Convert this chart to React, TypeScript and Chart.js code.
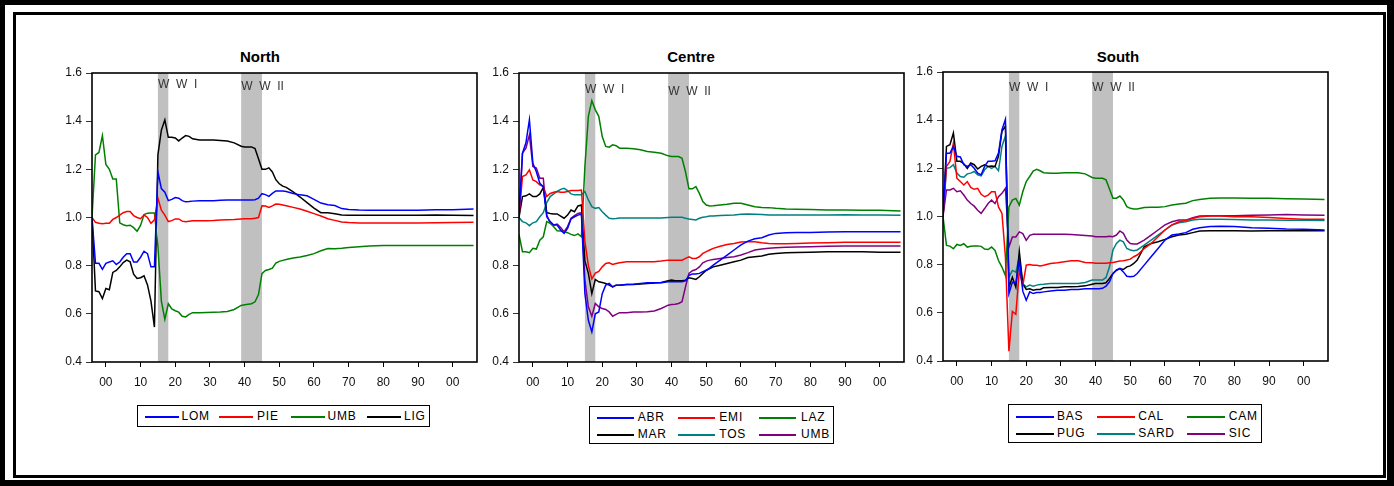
import React, { useEffect, useRef } from "react";
import { Chart, registerables } from "chart.js";

Chart.register(...registerables);

const FONT = '"Liberation Sans", Arial, Helvetica, sans-serif';

// ---------- data ----------
const YEARS = [
  1896, 1897, 1898, 1899, 1900, 1901, 1902, 1903, 1904, 1905,
  1906, 1907, 1908, 1909, 1910, 1911, 1912, 1913, 1914, 1915,
  1916, 1917, 1918, 1919, 1920, 1921, 1922, 1923, 1924, 1925,
  1927, 1929, 1931, 1933, 1935, 1937, 1939, 1940, 1941, 1942,
  1943, 1944, 1945, 1946, 1947, 1948, 1949, 1950, 1951, 1952,
  1954, 1956, 1958, 1960, 1962, 1964, 1966, 1968, 1970, 1973,
  1976, 1980, 1985, 1990, 1995, 2000, 2006,
];

const X_TICKS = [1900, 1910, 1920, 1930, 1940, 1950, 1960, 1970, 1980, 1990, 2000];
const Y_TICKS = [0.4, 0.6, 0.8, 1.0, 1.2, 1.4, 1.6];
const WAR_START = [1915, 1939];
const WAR_END = [1918, 1945];
const WAR_LABELS = ["W  W  I", "W  W  II"];

// North
const NORTH_NAMES = ["LOM", "PIE", "UMB", "LIG"];
const NORTH_COLORS = ["#0000ff", "#ff0000", "#008000", "#000000"];
const N_LOM = [
  1.0, 0.81, 0.81, 0.785, 0.81, 0.815, 0.82, 0.805, 0.815, 0.835,
  0.85, 0.85, 0.815, 0.815, 0.835, 0.86, 0.85, 0.795, 0.795, 1.19,
  1.12, 1.105, 1.07, 1.075, 1.083, 1.08, 1.07, 1.065, 1.066, 1.068,
  1.07, 1.07, 1.07, 1.072, 1.073, 1.073, 1.073, 1.073, 1.073, 1.073,
  1.074, 1.08, 1.099, 1.095, 1.088, 1.1, 1.11, 1.11, 1.11, 1.108,
  1.1, 1.094, 1.09, 1.075, 1.06, 1.053, 1.05, 1.037, 1.033, 1.031,
  1.03, 1.03, 1.03, 1.03, 1.032, 1.032, 1.035,
];
const N_PIE = [
  1.0, 0.98, 0.976, 0.974, 0.976, 0.976, 0.992, 1.0, 1.01, 1.02,
  1.025, 1.025, 1.008, 1.0, 0.995, 1.01, 1.0, 0.976, 0.99, 1.08,
  1.03, 1.01, 0.983, 0.987, 0.994, 0.994, 0.985, 0.982, 0.984, 0.986,
  0.987, 0.987, 0.988, 0.99, 0.991, 0.992, 0.994, 0.995, 0.995, 0.995,
  0.997, 1.0, 1.049, 1.048, 1.042, 1.048, 1.056, 1.055, 1.052, 1.049,
  1.042, 1.035, 1.026, 1.016, 1.006, 0.995, 0.988, 0.981, 0.979, 0.977,
  0.977, 0.977, 0.977, 0.977, 0.978, 0.979, 0.98,
];
const N_UMB = [
  1.0, 1.26, 1.27, 1.34, 1.22, 1.2, 1.16, 1.16, 0.978, 0.97,
  0.966, 0.968, 0.958, 0.943, 0.967, 1.012, 1.018, 1.019, 1.019, 0.88,
  0.653, 0.577, 0.642, 0.62, 0.613, 0.607, 0.59, 0.587, 0.598, 0.605,
  0.605, 0.606, 0.607, 0.608, 0.61, 0.618, 0.635, 0.638, 0.64, 0.642,
  0.65, 0.68, 0.767, 0.78, 0.784, 0.79, 0.811, 0.818, 0.822, 0.826,
  0.832, 0.836, 0.842, 0.85, 0.862, 0.871, 0.87, 0.872, 0.875, 0.879,
  0.882, 0.884, 0.884, 0.884, 0.884, 0.884, 0.884,
];
const N_LIG = [
  1.0, 0.695, 0.692, 0.663, 0.705, 0.7, 0.772, 0.78, 0.795, 0.813,
  0.823, 0.816, 0.765, 0.747, 0.75, 0.758, 0.72, 0.653, 0.545, 1.26,
  1.363, 1.405, 1.333, 1.333, 1.33, 1.318, 1.33, 1.34, 1.337, 1.327,
  1.322, 1.322, 1.322, 1.32, 1.318, 1.31, 1.296, 1.293, 1.293, 1.293,
  1.286, 1.244, 1.2, 1.2, 1.206, 1.189, 1.157, 1.14, 1.13, 1.125,
  1.106, 1.085, 1.062, 1.039, 1.02, 1.02, 1.016, 1.01, 1.009, 1.009,
  1.009, 1.009, 1.009, 1.009, 1.01, 1.009, 1.008,
];

// Centre
const CENTRE_NAMES = ["ABR", "EMI", "LAZ", "MAR", "TOS", "UMB"];
const CENTRE_COLORS = ["#0000ff", "#ff0000", "#008000", "#000000", "#008080", "#800080"];
const C_ABR = [
  1.0, 1.267, 1.31, 1.406, 1.225, 1.19, 1.142, 1.128, 1.003, 0.983,
  0.969, 0.969, 0.948, 0.934, 0.955, 0.994, 1.003, 1.01, 1.014, 0.684,
  0.573, 0.525, 0.6, 0.608, 0.684, 0.719, 0.726, 0.712, 0.719, 0.719,
  0.722, 0.723, 0.726, 0.729, 0.729, 0.729, 0.733, 0.733, 0.733, 0.733,
  0.733, 0.737, 0.76, 0.765, 0.765, 0.768, 0.775, 0.781, 0.791, 0.802,
  0.823, 0.844, 0.865, 0.886, 0.902, 0.912, 0.916, 0.927, 0.934, 0.937,
  0.938, 0.938, 0.94, 0.941, 0.941, 0.941, 0.941,
];
const C_EMI = [
  1.0, 1.17, 1.177, 1.198, 1.156, 1.149, 1.135, 1.128, 1.087, 1.1,
  1.105, 1.108, 1.105, 1.105, 1.108, 1.112, 1.112, 1.112, 1.114, 0.9,
  0.8, 0.745, 0.769, 0.776, 0.795, 0.809, 0.812, 0.805, 0.809, 0.812,
  0.816, 0.816, 0.816, 0.816, 0.816, 0.819, 0.823, 0.823, 0.823, 0.823,
  0.823, 0.83, 0.837, 0.83, 0.83, 0.837, 0.851, 0.858, 0.865, 0.872,
  0.881, 0.888, 0.892, 0.898, 0.899, 0.899, 0.895, 0.892, 0.891, 0.891,
  0.892, 0.894, 0.895, 0.897, 0.897, 0.897, 0.897,
];
const C_LAZ = [
  0.93, 0.858, 0.858, 0.854, 0.872, 0.869, 0.906, 0.92, 0.983, 0.976,
  0.962, 0.945, 0.944, 0.941, 0.937, 0.93, 0.925, 0.932, 0.92, 1.212,
  1.42, 1.485, 1.447, 1.42, 1.336, 1.295, 1.292, 1.302, 1.298, 1.288,
  1.288, 1.285, 1.281, 1.274, 1.271, 1.267, 1.256, 1.253, 1.253, 1.253,
  1.246, 1.19, 1.119, 1.119, 1.128, 1.1, 1.066, 1.052, 1.048, 1.049,
  1.052, 1.055, 1.059, 1.059, 1.052, 1.045, 1.042, 1.041, 1.038, 1.035,
  1.034, 1.033, 1.031, 1.031, 1.03, 1.03, 1.027,
];
const C_MAR = [
  1.0, 1.087, 1.09, 1.098, 1.087, 1.087, 1.098, 1.124, 1.02, 1.017,
  1.015, 1.015, 1.006, 0.997, 1.01, 1.031, 1.024, 1.048, 1.052, 0.82,
  0.768, 0.684, 0.743, 0.733, 0.73, 0.726, 0.719, 0.712, 0.719, 0.719,
  0.722, 0.722, 0.724, 0.726, 0.728, 0.73, 0.737, 0.74, 0.737, 0.737,
  0.737, 0.74, 0.75, 0.747, 0.743, 0.754, 0.768, 0.781, 0.788, 0.795,
  0.802, 0.809, 0.816, 0.823, 0.834, 0.837, 0.84, 0.847, 0.851, 0.854,
  0.855, 0.856, 0.858, 0.858, 0.858, 0.856, 0.856,
];
const C_TOS = [
  1.0, 0.983, 0.978, 0.966, 0.978, 0.983, 1.003, 1.02, 1.062, 1.087,
  1.098, 1.108, 1.117, 1.121, 1.112, 1.098, 1.094, 1.094, 1.094, 1.108,
  1.073, 1.045, 1.038, 1.041, 1.024, 1.01, 0.997, 0.995, 0.996, 0.998,
  0.998, 0.998, 0.998, 0.998, 0.998, 0.998, 1.0, 1.001, 1.001, 1.001,
  1.001, 0.997, 0.994, 0.992, 0.99, 0.997, 1.001, 1.003, 1.006, 1.006,
  1.008, 1.009, 1.01, 1.013, 1.015, 1.014, 1.012, 1.01, 1.01, 1.01,
  1.01, 1.01, 1.01, 1.011, 1.01, 1.01, 1.009,
];
const C_UMB = [
  1.0, 1.267, 1.288, 1.343, 1.212, 1.205, 1.163, 1.163, 1.01, 0.976,
  0.969, 0.973, 0.958, 0.941, 0.962, 0.997, 1.008, 1.017, 1.02, 0.74,
  0.629, 0.59, 0.643, 0.629, 0.622, 0.618, 0.608, 0.59, 0.598, 0.605,
  0.605, 0.608, 0.608, 0.609, 0.612, 0.622, 0.636, 0.639, 0.64, 0.643,
  0.65, 0.712, 0.768, 0.779, 0.784, 0.795, 0.812, 0.819, 0.823, 0.826,
  0.83, 0.834, 0.837, 0.844, 0.854, 0.865, 0.869, 0.872, 0.874, 0.876,
  0.878, 0.879, 0.881, 0.882, 0.882, 0.882, 0.882,
];

// South
const SOUTH_NAMES = ["BAS", "CAL", "CAM", "PUG", "SARD", "SIC"];
const SOUTH_COLORS = ["#0000ff", "#ff0000", "#008000", "#000000", "#008080", "#800080"];
const S_BAS = [
  1.0, 1.263, 1.263, 1.291, 1.25, 1.247, 1.215, 1.208, 1.215, 1.2,
  1.18, 1.173, 1.208, 1.229, 1.229, 1.231, 1.263, 1.36, 1.403, 0.68,
  0.727, 0.723, 0.817, 0.69, 0.652, 0.687, 0.68, 0.684, 0.684, 0.687,
  0.691, 0.694, 0.694, 0.697, 0.697, 0.7, 0.7, 0.7, 0.7, 0.702,
  0.711, 0.729, 0.763, 0.777, 0.784, 0.77, 0.752, 0.75, 0.752, 0.763,
  0.798, 0.833, 0.867, 0.902, 0.923, 0.927, 0.933, 0.947, 0.953, 0.958,
  0.96, 0.958, 0.953, 0.951, 0.948, 0.947, 0.944,
];
const S_CAL = [
  1.0, 1.208, 1.229, 1.305, 1.159, 1.145, 1.131, 1.145, 1.121, 1.113,
  1.117, 1.092, 1.082, 1.089, 1.103, 1.103, 1.04, 1.013, 0.831, 0.441,
  0.606, 0.594, 0.776, 0.713, 0.798, 0.801, 0.798, 0.798, 0.795, 0.798,
  0.805, 0.808, 0.812, 0.816, 0.816, 0.809, 0.808, 0.806, 0.806, 0.806,
  0.806, 0.808, 0.809, 0.812, 0.815, 0.816, 0.819, 0.823, 0.833, 0.84,
  0.867, 0.888, 0.916, 0.944, 0.965, 0.978, 0.983, 0.992, 0.999, 1.002,
  1.002, 0.999, 0.999, 0.996, 0.992, 0.989, 0.989,
];
const S_CAM = [
  1.0, 0.88, 0.877, 0.866, 0.884, 0.88, 0.887, 0.873, 0.876, 0.877,
  0.878, 0.876, 0.865, 0.863, 0.873, 0.859, 0.817, 0.79, 0.755, 1.04,
  1.068, 1.075, 1.047, 1.103, 1.145, 1.166, 1.189, 1.196, 1.19, 1.182,
  1.18, 1.18, 1.182, 1.182, 1.182, 1.177, 1.162, 1.159, 1.159, 1.159,
  1.152, 1.114, 1.076, 1.076, 1.085, 1.069, 1.041, 1.034, 1.031, 1.031,
  1.037, 1.038, 1.038, 1.041, 1.048, 1.052, 1.055, 1.066, 1.071, 1.076,
  1.077, 1.077, 1.076, 1.076, 1.074, 1.073, 1.071,
];
const S_PUG = [
  1.0, 1.291, 1.298, 1.347, 1.229, 1.229, 1.219, 1.2, 1.222, 1.215,
  1.197, 1.208, 1.215, 1.208, 1.21, 1.208, 1.25, 1.354, 1.375, 0.706,
  0.748, 0.706, 0.855, 0.72, 0.697, 0.7, 0.694, 0.697, 0.697, 0.704,
  0.705, 0.705, 0.708, 0.708, 0.709, 0.712, 0.719, 0.722, 0.722, 0.722,
  0.725, 0.743, 0.763, 0.777, 0.784, 0.78, 0.791, 0.795, 0.805, 0.819,
  0.874, 0.888, 0.895, 0.905, 0.916, 0.923, 0.926, 0.933, 0.94, 0.941,
  0.941, 0.941, 0.94, 0.941, 0.941, 0.941, 0.941,
];
const S_SARD = [
  1.0, 1.2, 1.203, 1.215, 1.18, 1.166, 1.163, 1.177, 1.18, 1.187,
  1.173, 1.169, 1.194, 1.208, 1.2, 1.208, 1.19, 1.291, 1.335, 0.748,
  0.776, 0.769, 0.831, 0.72, 0.708, 0.715, 0.711, 0.715, 0.718, 0.719,
  0.722, 0.722, 0.722, 0.722, 0.722, 0.726, 0.736, 0.736, 0.736, 0.736,
  0.747, 0.791, 0.861, 0.888, 0.902, 0.895, 0.867, 0.861, 0.858, 0.861,
  0.881, 0.902, 0.923, 0.944, 0.965, 0.974, 0.978, 0.985, 0.989, 0.989,
  0.989, 0.988, 0.985, 0.985, 0.984, 0.984, 0.983,
];
const S_SIC = [
  1.0, 1.11, 1.11, 1.117, 1.103, 1.107, 1.089, 1.068, 1.054, 1.043,
  1.026, 1.013, 1.033, 1.054, 1.068, 1.054, 1.082, 1.096, 1.117, 0.873,
  0.915, 0.915, 0.936, 0.929, 0.901, 0.922, 0.926, 0.926, 0.926, 0.926,
  0.926, 0.926, 0.926, 0.925, 0.923, 0.921, 0.919, 0.916, 0.916, 0.916,
  0.916, 0.918, 0.916, 0.923, 0.94, 0.93, 0.902, 0.888, 0.886, 0.886,
  0.902, 0.923, 0.944, 0.965, 0.978, 0.985, 0.985, 0.995, 1.002, 1.003,
  1.003, 1.003, 1.005, 1.006, 1.008, 1.006, 1.005,
];

// ---------- layout ----------
type LegendLayout = {
  left: number; top: number; width: number; height: number;
  cols: number; lineX: number[]; textX: number[]; rowY: number[]; lineLen: number;
};
type Panel = {
  title: string; names: string[]; colors: string[]; series: number[][];
  plotL: number; plotR: number; plotT: number; plotB: number;
  titleX: number; titleTop: number; warLabelDy: number[];
  legend: LegendLayout;
};

const PANELS: Panel[] = [
  {
    title: "North", names: NORTH_NAMES, colors: NORTH_COLORS,
    series: [N_LOM, N_PIE, N_UMB, N_LIG],
    plotL: 92, plotR: 477, plotT: 73, plotB: 362,
    titleX: 260, titleTop: 49, warLabelDy: [15, 17],
    legend: { left: 137, top: 405, width: 293, height: 22, cols: 4,
      lineX: [6.5, 81, 152.5, 229], textX: [43.5, 119, 189.5, 266], rowY: [11], lineLen: 33.5 },
  },
  {
    title: "Centre", names: CENTRE_NAMES, colors: CENTRE_COLORS,
    series: [C_ABR, C_EMI, C_LAZ, C_MAR, C_TOS, C_UMB],
    plotL: 519, plotR: 904, plotT: 73, plotB: 362,
    titleX: 691, titleTop: 49, warLabelDy: [20, 22],
    legend: { left: 589, top: 406, width: 245, height: 38, cols: 3,
      lineX: [6.7, 87.7, 169.3], textX: [47.7, 129.3, 211], rowY: [11, 28], lineLen: 37 },
  },
  {
    title: "South", names: SOUTH_NAMES, colors: SOUTH_COLORS,
    series: [S_BAS, S_CAL, S_CAM, S_PUG, S_SARD, S_SIC],
    plotL: 943, plotR: 1328, plotT: 72, plotB: 361,
    titleX: 1118, titleTop: 49, warLabelDy: [19, 19],
    legend: { left: 1008, top: 404, width: 254, height: 39, cols: 3,
      lineX: [7, 88, 178], textX: [48, 129.3, 219.7], rowY: [12, 29], lineLen: 37.5 },
  },
];

const Y_AXIS_W = 52;
const X_AXIS_H = 28;
const PAD_R = 8;
const CANVAS_H = 350;

const warPlugin = {
  id: "warFrame",
  beforeDatasetsDraw(chart: any, _args: any, opts: any) {
    const { ctx, chartArea: a, scales } = chart;
    const x = scales.x;
    ctx.save();
    ctx.fillStyle = "#c0c0c0";
    WAR_START.forEach((s, i) => {
      const x0 = x.getPixelForValue(s);
      const x1 = x.getPixelForValue(WAR_END[i]);
      ctx.fillRect(x0, a.top, x1 - x0, a.bottom - a.top);
    });
    ctx.fillStyle = "#333333";
    ctx.font = `12px ${FONT}`;
    ctx.textBaseline = "alphabetic";
    ctx.textAlign = "left";
    WAR_START.forEach((s, i) => {
      ctx.fillText(WAR_LABELS[i], x.getPixelForValue(s), a.top + (opts.dy?.[i] ?? 16));
    });
    ctx.restore();
  },
  afterDatasetsDraw(chart: any) {
    const { ctx, chartArea: a } = chart;
    ctx.save();
    ctx.strokeStyle = "#000";
    ctx.lineWidth = 1.6;
    ctx.strokeRect(a.left, a.top, a.right - a.left, a.bottom - a.top);
    ctx.restore();
  },
};

function PanelChart({ p }: { p: Panel }) {
  const ref = useRef<HTMLCanvasElement>(null);
  const width = p.plotR - p.plotL + Y_AXIS_W + PAD_R;
  const top = p.plotB + X_AXIS_H - CANVAS_H;
  useEffect(() => {
    const chart = new Chart(ref.current!, {
      type: "line",
      data: {
        datasets: p.series.map((s, i) => ({
          label: p.names[i],
          data: YEARS.map((yr, j) => ({ x: yr, y: s[j] })),
          borderColor: p.colors[i],
          backgroundColor: p.colors[i],
          borderWidth: 1.5,
          pointRadius: 0,
          tension: 0,
          fill: false,
        })),
      },
      options: {
        animation: false,
        responsive: false,
        devicePixelRatio: 1,
        layout: { padding: { left: 0, right: PAD_R, top: p.plotT - top, bottom: 0 } },
        plugins: {
          legend: { display: false },
          tooltip: { enabled: false },
          title: { display: false },
          warFrame: { dy: p.warLabelDy },
        } as any,
        scales: {
          x: {
            type: "linear",
            min: 1896,
            max: 2007,
            afterBuildTicks: (s: any) => { s.ticks = X_TICKS.map((v) => ({ value: v })); },
            afterFit: (s: any) => { s.height = X_AXIS_H; },
            grid: { display: true, drawOnChartArea: false, drawTicks: true, tickLength: 5, color: "#000", lineWidth: 1 },
            border: { display: false },
            ticks: {
              color: "#111",
              font: { family: FONT, size: 12 },
              padding: 8,
              maxRotation: 0,
              autoSkip: false,
              callback: (v: any) => String(Number(v) % 100).padStart(2, "0"),
            },
          },
          y: {
            type: "linear",
            min: 0.4,
            max: 1.6,
            afterBuildTicks: (s: any) => { s.ticks = Y_TICKS.map((v) => ({ value: v })); },
            afterFit: (s: any) => { s.width = Y_AXIS_W; },
            grid: { display: true, drawOnChartArea: false, drawTicks: true, tickLength: 6, color: "#333", lineWidth: 1 },
            border: { display: false },
            ticks: {
              color: "#111",
              font: { family: FONT, size: 12 },
              padding: 4,
              callback: (v: any) => Number(v).toFixed(1),
            },
          },
        },
      } as any,
      plugins: [warPlugin as any],
    });
    return () => chart.destroy();
  }, [p]);
  return (
    <canvas
      ref={ref}
      width={width}
      height={CANVAS_H}
      style={{ position: "absolute", left: p.plotL - Y_AXIS_W, top, width, height: CANVAS_H }}
    />
  );
}

function Legend({ p }: { p: Panel }) {
  const L = p.legend;
  return (
    <div
      style={{
        position: "absolute", left: L.left, top: L.top, width: L.width, height: L.height,
        border: "1.5px solid #000", boxSizing: "border-box", background: "#fff",
      }}
    >
      {p.names.map((name, i) => {
        const col = i % L.cols;
        const row = Math.floor(i / L.cols);
        const cy = L.rowY[row];
        return (
          <React.Fragment key={name}>
            <div style={{ position: "absolute", left: Math.round(L.lineX[col]), top: cy - 1, width: Math.round(L.lineLen), height: 2, background: p.colors[i] }} />
            <div style={{
              position: "absolute", left: L.textX[col], top: cy - 8, height: 16, lineHeight: "16px",
              font: `12px ${FONT}`, letterSpacing: "0.8px", color: "#000", whiteSpace: "nowrap",
            }}>{name}</div>
          </React.Fragment>
        );
      })}
    </div>
  );
}

export default function App() {
  return (
    <div style={{ position: "absolute", left: 0, top: 0, width: 1394, height: 486, background: "#fff", overflow: "hidden" }}>
      <div style={{
        position: "absolute", left: 0, top: 0, width: 1394, height: 486, boxSizing: "border-box",
        borderStyle: "solid", borderColor: "#000", borderWidth: "5px 7px 6px 5px",
      }} />
      <div style={{
        position: "absolute", left: 13, top: 12, width: 1373, height: 466, boxSizing: "border-box",
        border: "3px solid #000",
      }} />
      {PANELS.map((p) => (
        <React.Fragment key={p.title}>
          <div style={{
            position: "absolute", left: p.titleX - 60, top: p.titleTop, width: 120, textAlign: "center",
            font: `bold 15px ${FONT}`, lineHeight: "15px", color: "#000",
          }}>{p.title}</div>
          <PanelChart p={p} />
          <Legend p={p} />
        </React.Fragment>
      ))}
    </div>
  );
}
